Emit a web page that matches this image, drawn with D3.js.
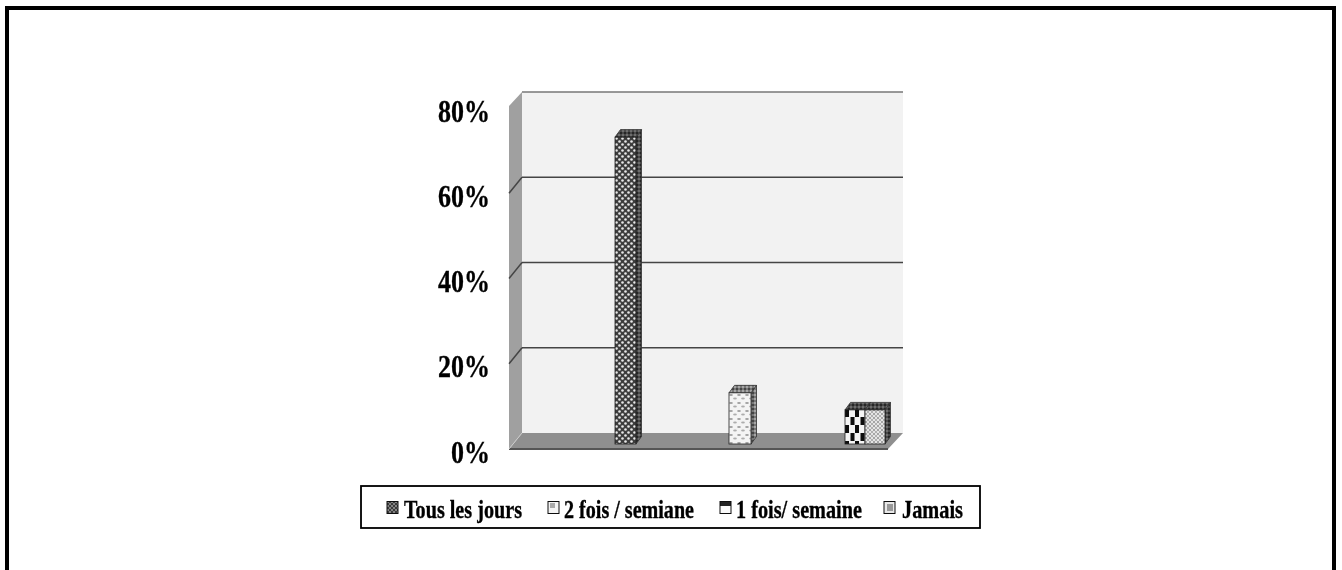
<!DOCTYPE html>
<html><head><meta charset="utf-8">
<script src="https://cdn.jsdelivr.net/npm/d3@7/dist/d3.min.js"></script>
<style>html,body{margin:0;padding:0;background:#fff;overflow:hidden}svg{display:block}text{font-family:"Liberation Serif",serif;font-weight:bold;fill:#000;stroke:#000;stroke-width:.35}</style>
</head><body><svg id="c" width="1342" height="570"></svg>
<script>
const categories = ["Tous les jours","2 fois / semiane","1 fois/ semaine","Jamais"];
const values = [72,12,8,8];
const yTicks = [0,20,40,60,80];
const barLeft = [615,729,845,865];
const barW = [21,22,20,20];
const legendSwatchX = [387,548,720,884];
const legendTextX = [404,564,736,902];
const legendTextW = [118,130,126,61];

const svg = d3.select("#c");
const defs = svg.append("defs");
const blur = defs.append("filter").attr("id","soft").attr("x","-5%").attr("y","-5%").attr("width","110%").attr("height","110%");
blur.append("feGaussianBlur").attr("stdDeviation",0.7);

function pat(id,w,h,bg,draw,origin){
  const p = defs.append("pattern").attr("id",id).attr("patternUnits","userSpaceOnUse").attr("width",w).attr("height",h);
  if(origin) p.attr("patternTransform",`translate(${origin[0]},${origin[1]})`);
  p.append("rect").attr("width",w).attr("height",h).attr("fill",bg);
  draw(p);
}
pat("p0",6,6,"#3c3c3c",p=>{
  p.append("circle").attr("cx",1.5).attr("cy",1.5).attr("r",1.3).attr("fill","#e8e8e8");
  p.append("circle").attr("cx",4.5).attr("cy",4.5).attr("r",1.3).attr("fill","#e8e8e8");
},[615,137]);
pat("p1",8,8,"#f4f4f4",p=>{
  p.append("ellipse").attr("cx",2).attr("cy",2).attr("rx",1.9).attr("ry",1.1).attr("fill","#a0a0a0");
  p.append("ellipse").attr("cx",6).attr("cy",5.5).attr("rx",1.9).attr("ry",1.1).attr("fill","#adadad");
},[729,393]);
pat("p2",10,16,"#f4f4f4",p=>{
  p.append("rect").attr("x",0).attr("y",0).attr("width",4).attr("height",8).attr("fill","#0a0a0a");
  p.append("rect").attr("x",5.5).attr("y",8).attr("width",4).attr("height",8).attr("fill","#0a0a0a");
},[845,409]);
pat("p3",4,4,"#e4e4e4",p=>{
  p.append("circle").attr("cx",1).attr("cy",1).attr("r",.95).attr("fill","#8a8a8a");
  p.append("circle").attr("cx",3).attr("cy",3).attr("r",.95).attr("fill","#9a9a9a");
},[865,409]);
pat("pSide",4,4,"#777",p=>{
  p.append("circle").attr("cx",1).attr("cy",1).attr("r",1).attr("fill","#333");
  p.append("circle").attr("cx",3).attr("cy",3).attr("r",.9).attr("fill","#bbb");
});
pat("pSideDark",4,4,"#4a4a4a",p=>{
  p.append("circle").attr("cx",1).attr("cy",1).attr("r",1).attr("fill","#1c1c1c");
  p.append("circle").attr("cx",3).attr("cy",3).attr("r",.8).attr("fill","#999");
});
pat("s0",4,4,"#3a3a3a",p=>{
  p.append("circle").attr("cx",1).attr("cy",1).attr("r",.8).attr("fill","#ddd");
  p.append("circle").attr("cx",3).attr("cy",3).attr("r",.8).attr("fill","#ddd");
},[387,501]);
pat("s1",12,14,"#f4f4f4",p=>{p.append("rect").attr("x",2).attr("y",2).attr("width",5).attr("height",5).attr("fill","#aaa");},[548,501]);
pat("s2",12,14,"#fafafa",p=>{p.append("rect").attr("width",12).attr("height",5).attr("fill","#222");},[720,501]);
pat("s3",12,14,"#e8e8e8",p=>{p.append("rect").attr("x",3).attr("y",3).attr("width",6).attr("height",7).attr("fill","#999");},[884,501]);

svg.append("path").attr("d","M7,570V8H1334V570").attr("fill","none").attr("stroke","#000").attr("stroke-width",4);

const g = svg.append("g").attr("filter","url(#soft)");
const y = d3.scaleLinear().domain([0,80]).range([444,103]);
const wallDy = -11, frontDy = 5;
const wallL = 522, wallR = 903, frontL = 509, frontR = 888;

g.append("polygon").attr("fill","#f2f2f2")
 .attr("points",[[wallL,y(80)+wallDy],[wallR,y(80)+wallDy],[wallR,y(0)+wallDy],[wallL,y(0)+wallDy]].join(" "));
g.append("polygon").attr("fill","#a0a0a0")
 .attr("points",[[frontL,y(80)+wallDy+14],[wallL,y(80)+wallDy],[wallL,y(0)+wallDy],[frontL,y(0)+frontDy]].join(" "));
g.append("polygon").attr("fill","#8f8f8f")
 .attr("points",[[wallL,y(0)+wallDy],[wallR,y(0)+wallDy],[frontR,y(0)+frontDy],[frontL,y(0)+frontDy]].join(" "));
g.append("line").attr("x1",frontL).attr("x2",frontR).attr("y1",y(0)+frontDy).attr("y2",y(0)+frontDy).attr("stroke","#555").attr("stroke-width",2);

yTicks.filter(t=>t>0).forEach(t=>{
  const yb = y(t)+wallDy;
  g.append("line").attr("x1",wallL).attr("x2",wallR).attr("y1",yb).attr("y2",yb).attr("stroke",t==80?"#777":"#444").attr("stroke-width",1.5);
  if(t<80) g.append("line").attr("x1",frontL).attr("x2",wallL).attr("y1",yb+16).attr("y2",yb).attr("stroke","#444").attr("stroke-width",1.5);
});
g.append("line").attr("x1",frontL).attr("x2",wallL).attr("y1",y(0)+frontDy).attr("y2",y(0)+wallDy).attr("stroke","#ccc").attr("stroke-width",1);

g.selectAll("text.yl").data(yTicks).join("text").attr("class","yl")
 .attr("x",490).attr("y",t=>y(t)+18.5).attr("text-anchor","end").attr("font-size",32).text(t=>t+"%")
 .attr("textLength",t=>t==0?39:52).attr("lengthAdjust","spacingAndGlyphs");

const depthX = 5.5, depthY = -7.5;
values.forEach((v,i)=>{
  const x0 = barLeft[i], x1 = x0+barW[i], t = y(v), b = y(0);
  const side = i==1 ? "url(#pSide)" : "url(#pSideDark)";
  const bar = g.append("g");
  bar.append("polygon").attr("fill",side).attr("stroke","#333").attr("stroke-width",.8)
    .attr("points",[[x1,t],[x1+depthX,t+depthY],[x1+depthX,b+depthY],[x1,b]].join(" "));
  bar.append("polygon").attr("fill",side).attr("stroke","#333").attr("stroke-width",.8)
    .attr("points",[[x0,t],[x0+depthX,t+depthY],[x1+depthX,t+depthY],[x1,t]].join(" "));
  bar.append("rect").attr("x",x0).attr("y",t).attr("width",x1-x0).attr("height",b-t)
    .attr("fill",`url(#p${i})`).attr("stroke","#222").attr("stroke-width",.8);
});

g.append("rect").attr("x",361).attr("y",486).attr("width",619).attr("height",42).attr("fill","#fff").attr("stroke","#000").attr("stroke-width",1.8);
categories.forEach((c,i)=>{
  g.append("rect").attr("x",legendSwatchX[i]).attr("y",501.5).attr("width",11).attr("height",12)
    .attr("fill",`url(#s${i})`).attr("stroke","#111").attr("stroke-width",1);
  g.append("text").attr("x",legendTextX[i]).attr("y",518).attr("font-size",24.5).text(c)
    .attr("textLength",legendTextW[i]).attr("lengthAdjust","spacingAndGlyphs");
});
</script></body></html>
